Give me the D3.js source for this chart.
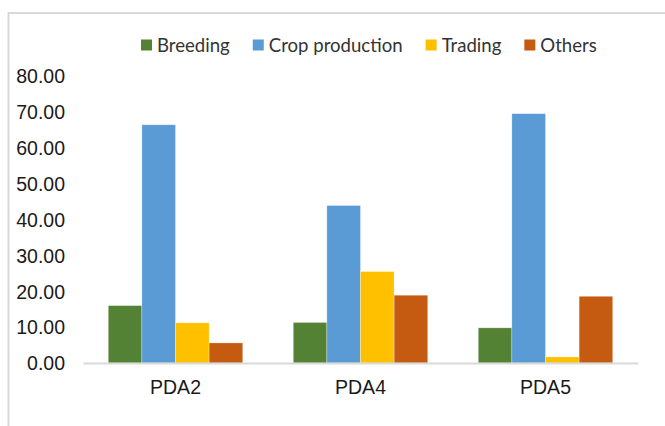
<!DOCTYPE html>
<html>
<head>
<meta charset="utf-8">
<script src="https://cdn.jsdelivr.net/npm/d3@7"></script>
<style>
  html, body { margin: 0; padding: 0; background: #fff; }
  svg { display: block; }
</style>
</head>
<body>
<svg id="chart" width="665" height="426"></svg>
<script>
const categories = ["PDA2", "PDA4", "PDA5"];
const seriesNames = ["Breeding", "Crop production", "Trading", "Others"];
const breeding = [16.0, 11.3, 9.8];
const cropProduction = [66.4, 43.9, 69.5];
const trading = [11.2, 25.5, 1.7];
const others = [5.6, 18.9, 18.6];
const seriesValues = [breeding, cropProduction, trading, others];
const colors = ["#548235", "#5B9BD5", "#FFC000", "#C55A11"];
const yTicks = [0, 10, 20, 30, 40, 50, 60, 70, 80];

const svg = d3.select("#chart");
const W = 665, H = 426;
const plot = { left: 83, right: 638, top: 76, bottom: 363 };

// frame
svg.append("line").attr("x1", 8.5).attr("x2", W).attr("y1", 13).attr("y2", 13)
  .attr("stroke", "#d9d9d9").attr("stroke-width", 2);
svg.append("line").attr("x1", 8.5).attr("x2", 8.5).attr("y1", 12).attr("y2", H)
  .attr("stroke", "#d9d9d9").attr("stroke-width", 2);

const x0 = d3.scaleBand().domain(categories).range([plot.left, plot.right])
  .paddingInner(0.273).paddingOuter(0.1365);
const x1 = d3.scaleBand().domain(seriesNames).range([0, x0.bandwidth()]);
const y = d3.scaleLinear().domain([0, 80]).range([plot.bottom, plot.top]);

// y axis labels
const yAxis = d3.axisLeft(y).tickValues(yTicks).tickFormat(d3.format(".2f")).tickSize(0).tickPadding(0);
const yg = svg.append("g").attr("transform", "translate(65,0)").call(yAxis)
  .attr("font-family", "'Liberation Sans', Arial, sans-serif").attr("font-size", "19.5px");
yg.select(".domain").remove();
yg.selectAll("text").attr("fill", "#1a1a1a").attr("dy", "0.35em");

// bars
const groups = svg.append("g").selectAll("g").data(categories).join("g")
  .attr("transform", d => `translate(${x0(d)},0)`);
groups.selectAll("rect")
  .data((c, i) => seriesNames.map((s, j) => ({ s, j, v: seriesValues[j][i] })))
  .join("rect")
  .attr("x", d => x1(d.s))
  .attr("width", x1.bandwidth())
  .attr("y", d => y(d.v))
  .attr("height", d => y(0) - y(d.v))
  .attr("fill", d => colors[d.j])
  .attr("stroke", "#ffffff").attr("stroke-opacity", 0.5).attr("stroke-width", 0.6);

// baseline / x axis
const xAxis = d3.axisBottom(x0).tickSize(0).tickPadding(0);
const xg = svg.append("g").attr("transform", `translate(0,${plot.bottom})`).call(xAxis)
  .attr("font-family", "'Liberation Sans', Arial, sans-serif").attr("font-size", "19.5px");
xg.select(".domain").attr("stroke", "#d9d9d9").attr("stroke-width", 2);
xg.selectAll("text").attr("fill", "#1a1a1a").attr("dy", null).attr("y", 31.3);

// legend
const leg = svg.append("g");
let lx = 141;
seriesNames.forEach((s, j) => {
  leg.append("rect").attr("x", lx).attr("y", 39.5).attr("width", 11).attr("height", 11)
    .attr("fill", colors[j]);
  const t = leg.append("text").attr("x", lx + 16).attr("y", 45).attr("dy", "0.35em")
    .attr("font-family", "Lato, 'Open Sans', sans-serif").attr("font-size", "18.6px")
    .attr("fill", "#333").text(s);
  lx += 16 + t.node().getComputedTextLength() + 23;
});
</script>
</body>
</html>
